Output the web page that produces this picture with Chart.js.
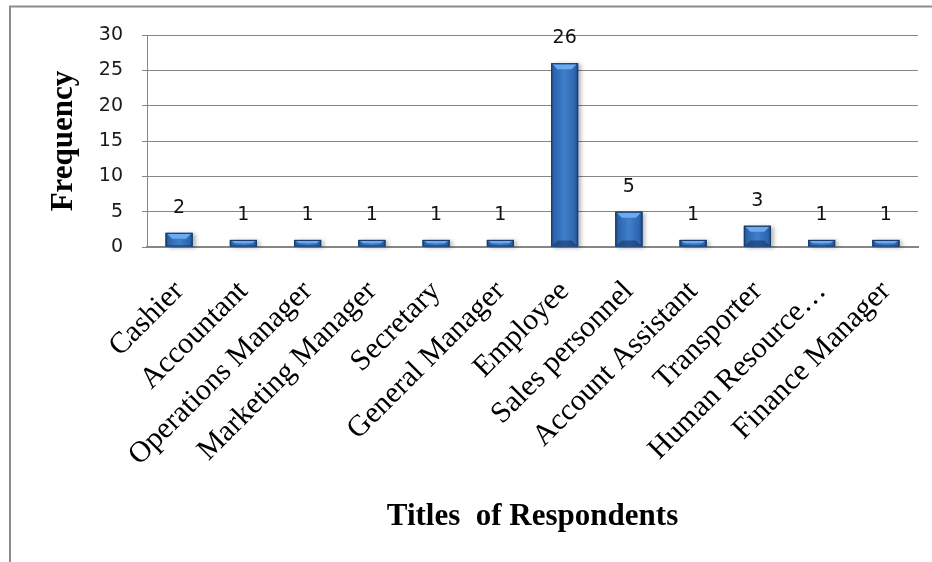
<!DOCTYPE html>
<html>
<head>
<meta charset="utf-8">
<script src="https://cdn.jsdelivr.net/npm/chart.js@4/dist/chart.umd.min.js"></script>
<style>
  html, body { margin: 0; padding: 0; background: #ffffff; }
  #wrap { width: 932px; height: 562px; position: relative; }
</style>
</head>
<body>
<div id="wrap"><canvas id="chart" width="932" height="562"></canvas></div>
<script>
// Respondent job titles and how many respondents hold each
const titles = [
  'Cashier', 'Accountant', 'Operations Manager', 'Marketing Manager',
  'Secretary', 'General Manager', 'Employee', 'Sales personnel',
  'Account Assistant', 'Transporter', 'Human Resource…', 'Finance Manager'
];
const frequency = [2, 1, 1, 1, 1, 1, 26, 5, 1, 3, 1, 1];
const yTicks = [0, 5, 10, 15, 20, 25, 30];

const gridGray = '#868686';

// Page frame: grey rules along the top and left edges
const framePlugin = {
  id: 'frame',
  beforeDraw(chart) {
    const ctx = chart.ctx;
    ctx.save();
    ctx.fillStyle = '#ffffff';
    ctx.fillRect(0, 0, chart.width, chart.height);
    ctx.strokeStyle = '#8c8c8c';
    ctx.lineWidth = 2;
    ctx.beginPath();
    ctx.moveTo(10, chart.height);
    ctx.lineTo(10, 6.5);
    ctx.lineTo(chart.width, 6.5);
    ctx.stroke();
    ctx.restore();
  }
};

// Bevelled look for the bars plus the value label above each one
const bevelPlugin = {
  id: 'bevel',
  afterDatasetsDraw(chart) {
    const ctx = chart.ctx;
    const meta = chart.getDatasetMeta(0);
    ctx.save();
    meta.data.forEach((bar, i) => {
      const p = bar.getProps(['x', 'y', 'base', 'width'], true);
      const l = p.x - p.width / 2, r = p.x + p.width / 2;
      const t = p.y, b = p.base;
      const h = b - t;

      // soft drop shadow
      ctx.save();
      ctx.shadowColor = 'rgba(0,0,0,0.28)';
      ctx.shadowBlur = 4;
      ctx.shadowOffsetX = 3;
      ctx.shadowOffsetY = 1;
      ctx.fillStyle = '#2f64aa';
      ctx.fillRect(l, t, p.width, h);
      ctx.restore();

      // body: darker edges, lighter middle
      const g = ctx.createLinearGradient(l, 0, r, 0);
      g.addColorStop(0, '#1f4a86');
      g.addColorStop(0.12, '#2e65ad');
      g.addColorStop(0.5, '#3f7fcb');
      g.addColorStop(0.88, '#2e65ad');
      g.addColorStop(1, '#1f4a86');
      ctx.fillStyle = g;
      ctx.fillRect(l, t, p.width, h);

      // top bevel highlight
      const cap = Math.min(6, h / 2);
      const inset = Math.min(5, cap);
      ctx.fillStyle = '#6aaaf0';
      ctx.beginPath();
      ctx.moveTo(l + 1.5, t + 1);
      ctx.lineTo(r - 1.5, t + 1);
      ctx.lineTo(r - 1.5 - inset, t + cap);
      ctx.lineTo(l + 1.5 + inset, t + cap);
      ctx.closePath();
      ctx.fill();

      // bottom bevel shade
      if (h > 14) {
        ctx.fillStyle = 'rgba(20,50,95,0.55)';
        ctx.beginPath();
        ctx.moveTo(l + 1.5, b - 1);
        ctx.lineTo(r - 1.5, b - 1);
        ctx.lineTo(r - 6.5, b - 6);
        ctx.lineTo(l + 6.5, b - 6);
        ctx.closePath();
        ctx.fill();
      }

      // outline
      ctx.strokeStyle = '#1a3a66';
      ctx.lineWidth = 1;
      ctx.strokeRect(l + 0.5, t + 0.5, p.width - 1, h - 1);

      // value label
      ctx.fillStyle = '#111111';
      ctx.font = '19px "DejaVu Sans"';
      ctx.textAlign = 'center';
      ctx.textBaseline = 'middle';
      ctx.fillText(String(frequency[i]), p.x, t - 25);
    });
    ctx.restore();
  }
};

new Chart(document.getElementById('chart'), {
  type: 'bar',
  data: {
    labels: titles,
    datasets: [{
      data: frequency,
      backgroundColor: '#3572bd',
      borderWidth: 0,
      categoryPercentage: 1,
      barPercentage: 0.42
    }]
  },
  options: {
    responsive: false,
    animation: false,
    events: [],
    layout: { padding: { left: 0, top: 35, right: 14, bottom: 0 } },
    plugins: {
      legend: { display: false },
      tooltip: { enabled: false }
    },
    scales: {
      x: {
        grid: { display: false },
        border: { display: true, color: gridGray, width: 2 },
        ticks: {
          color: '#000000',
          font: { family: '"Liberation Serif"', size: 30 },
          autoSkip: false,
          minRotation: 45,
          maxRotation: 45,
          padding: 19
        },
        title: {
          display: true,
          text: 'Titles  of Respondents',
          color: '#000000',
          font: { family: '"Liberation Serif"', size: 31, weight: 'bold' },
          padding: { top: 0, bottom: 26 }
        },
        afterFit(scale) { scale.height = 315; }
      },
      y: {
        min: 0,
        max: 30,
        afterBuildTicks(scale) { scale.ticks = yTicks.map(v => ({ value: v })); },
        grid: { color: gridGray, lineWidth: 1, tickLength: 5 },
        border: { display: true, color: gridGray, width: 1 },
        ticks: {
          color: '#1a1a1a',
          font: { family: '"DejaVu Sans"', size: 19 },
          padding: 19
        },
        title: {
          display: true,
          text: 'Frequency',
          color: '#000000',
          font: { family: '"Liberation Serif"', size: 31, weight: 'bold' },
          padding: { top: 45, bottom: 0 }
        },
        afterFit(scale) { scale.width = 147; }
      }
    }
  },
  plugins: [framePlugin, bevelPlugin]
});
</script>
</body>
</html>
